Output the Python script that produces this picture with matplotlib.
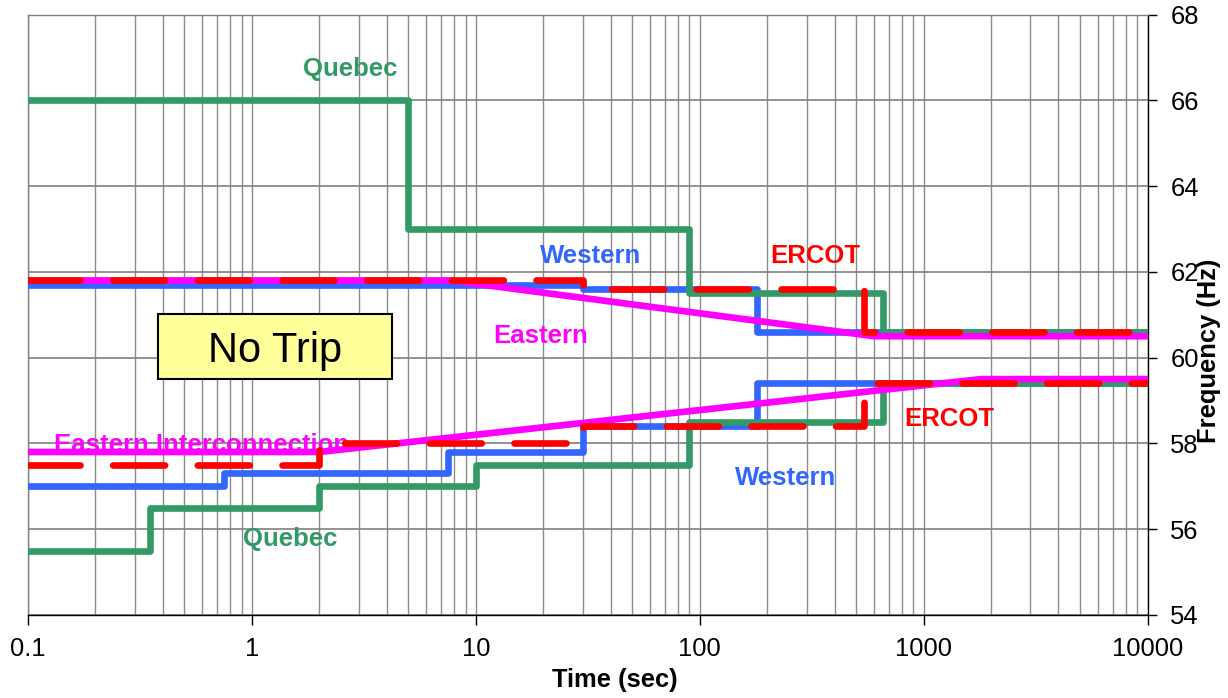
import numpy as np
import matplotlib.pyplot as plt
from matplotlib.ticker import FixedLocator, LogLocator, NullFormatter, FuncFormatter
from matplotlib.patches import Rectangle

plt.rcParams['font.family'] = ['Liberation Sans', 'DejaVu Sans']

# Step curves: breakpoint times (sec) and frequency level (Hz) held between them
quebec_hi_t = [0.1, 5, 90, 660, 10000]
quebec_hi_f = [66.0, 63.0, 61.5, 60.6]
quebec_lo_t = [0.1, 0.35, 2, 10, 90, 660, 10000]
quebec_lo_f = [55.5, 56.5, 57.0, 57.5, 58.5, 59.4]

western_hi_t = [0.1, 30, 180, 10000]
western_hi_f = [61.7, 61.6, 60.6]
western_lo_t = [0.1, 0.75, 7.5, 30, 180, 10000]
western_lo_f = [57.0, 57.3, 57.8, 58.4, 59.4]

ercot_hi_t = [0.1, 30, 540, 10000]
ercot_hi_f = [61.8, 61.6, 60.6]
ercot_lo_t = [0.1, 2, 30, 540, 10000]
ercot_lo_f = [57.5, 58.0, 58.4, 59.4]

# Eastern curve corner points (straight on the log time axis)
eastern_hi_t = [0.1, 7.67, 600, 10000]
eastern_hi_f = [61.8, 61.8, 60.5, 60.5]
eastern_lo_t = [0.1, 2, 1800, 10000]
eastern_lo_f = [57.8, 57.8, 59.5, 59.5]

x_ticks = [0.1, 1, 10, 100, 1000, 10000]
y_ticks = [54, 56, 58, 60, 62, 64, 66, 68]

GREEN = '#339966'
BLUE = '#3366FF'
MAGENTA = '#FF00FF'
RED = '#FF0000'


def steps(t, f):
    xs, ys = [], []
    for i, v in enumerate(f):
        xs += [t[i], t[i + 1]]
        ys += [v, v]
    return xs, ys


W, H = 1228, 698
fig = plt.figure(figsize=(W / 100, H / 100), dpi=100)
ax = fig.add_axes([28 / W, 1 - 615 / H, (1147.5 - 28) / W, (615 - 14.5) / H])

lw = 4.8
solid = dict(lw=lw, solid_joinstyle='round', solid_capstyle='round')
for t, f in [(western_hi_t, western_hi_f), (western_lo_t, western_lo_f)]:
    ax.plot(*steps(t, f), color=BLUE, zorder=3, **solid)
for t, f in [(quebec_hi_t, quebec_hi_f), (quebec_lo_t, quebec_lo_f)]:
    ax.plot(*steps(t, f), color=GREEN, zorder=4, **solid)
ax.plot(eastern_hi_t, eastern_hi_f, color=MAGENTA, zorder=5, **solid)
ax.plot(eastern_lo_t, eastern_lo_f, color=MAGENTA, zorder=5, **solid)
for t, f in [(ercot_hi_t, ercot_hi_f), (ercot_lo_t, ercot_lo_f)]:
    ax.plot(*steps(t, f), color=RED, lw=lw, dashes=(7.8, 4.9),
            dash_capstyle='round', dash_joinstyle='round', zorder=7)

ax.set_xscale('log')
ax.set_xlim(0.1, 10000)
ax.set_ylim(54, 68)

# axes cosmetics
ax.yaxis.tick_right()
ax.yaxis.set_major_locator(FixedLocator(y_ticks))
ax.xaxis.set_major_locator(FixedLocator(x_ticks))
ax.xaxis.set_major_formatter(FuncFormatter(lambda v, p: '%g' % v))
ax.xaxis.set_minor_locator(LogLocator(base=10, subs=np.arange(2, 10), numticks=20))
ax.xaxis.set_minor_formatter(NullFormatter())
ax.tick_params(axis='x', which='major', direction='out', length=7, width=1,
               labelsize=18.4, pad=9)
ax.tick_params(axis='x', which='minor', length=0)
ax.tick_params(axis='y', direction='out', length=6.5, width=1,
               labelsize=18.4, pad=10, right=True, left=False)

ax.grid(True, which='both', axis='x', color='#8c8c8c', lw=1, zorder=0)
ax.grid(True, which='major', axis='y', color='#808080', lw=1.2, zorder=0)
ax.set_axisbelow(True)

ax.spines['left'].set_color('#808080')
ax.spines['top'].set_color('#808080')
ax.spines['right'].set_color('black')
ax.spines['bottom'].set_color('black')
for s in ax.spines.values():
    s.set_linewidth(1)

# series labels
lab = dict(fontsize=18.5, fontweight='bold', ha='center', va='baseline', zorder=6)
ax.text(2.74, 66.57, 'Quebec', color=GREEN, **lab)
ax.text(1.49, 55.62, 'Quebec', color=GREEN, **lab)
ax.text(32.7, 62.2, 'Western', color=BLUE, **lab)
ax.text(242, 57.03, 'Western', color=BLUE, **lab)
ax.text(329, 62.2, 'ERCOT', color=RED, **lab)
ax.text(1306, 58.41, 'ERCOT', color=RED, **lab)
ax.text(19.5, 60.34, 'Eastern', color=MAGENTA, **lab)
ax.text(0.596, 57.81, 'Eastern Interconnection', color=MAGENTA, **lab)

# "No Trip" box
fig.patches.append(Rectangle((157.7 / W, 1 - 379.3 / H), 234 / W, 65.3 / H,
                             transform=fig.transFigure, facecolor='#FFFF99',
                             edgecolor='black', lw=1.5, zorder=10))
fig.text(274.7 / W, 1 - 361.7 / H, 'No Trip', fontsize=30, ha='center',
         va='baseline', zorder=11)

fig.text(615 / W, 1 - 686.7 / H, 'Time (sec)', fontsize=18.4, fontweight='bold',
         ha='center', va='baseline')
fig.text(1209 / W, 1 - 351 / H, 'Frequency (Hz)', fontsize=18.4, fontweight='bold',
         rotation=90, ha='center', va='center')

fig.savefig('out.png', dpi=100)
